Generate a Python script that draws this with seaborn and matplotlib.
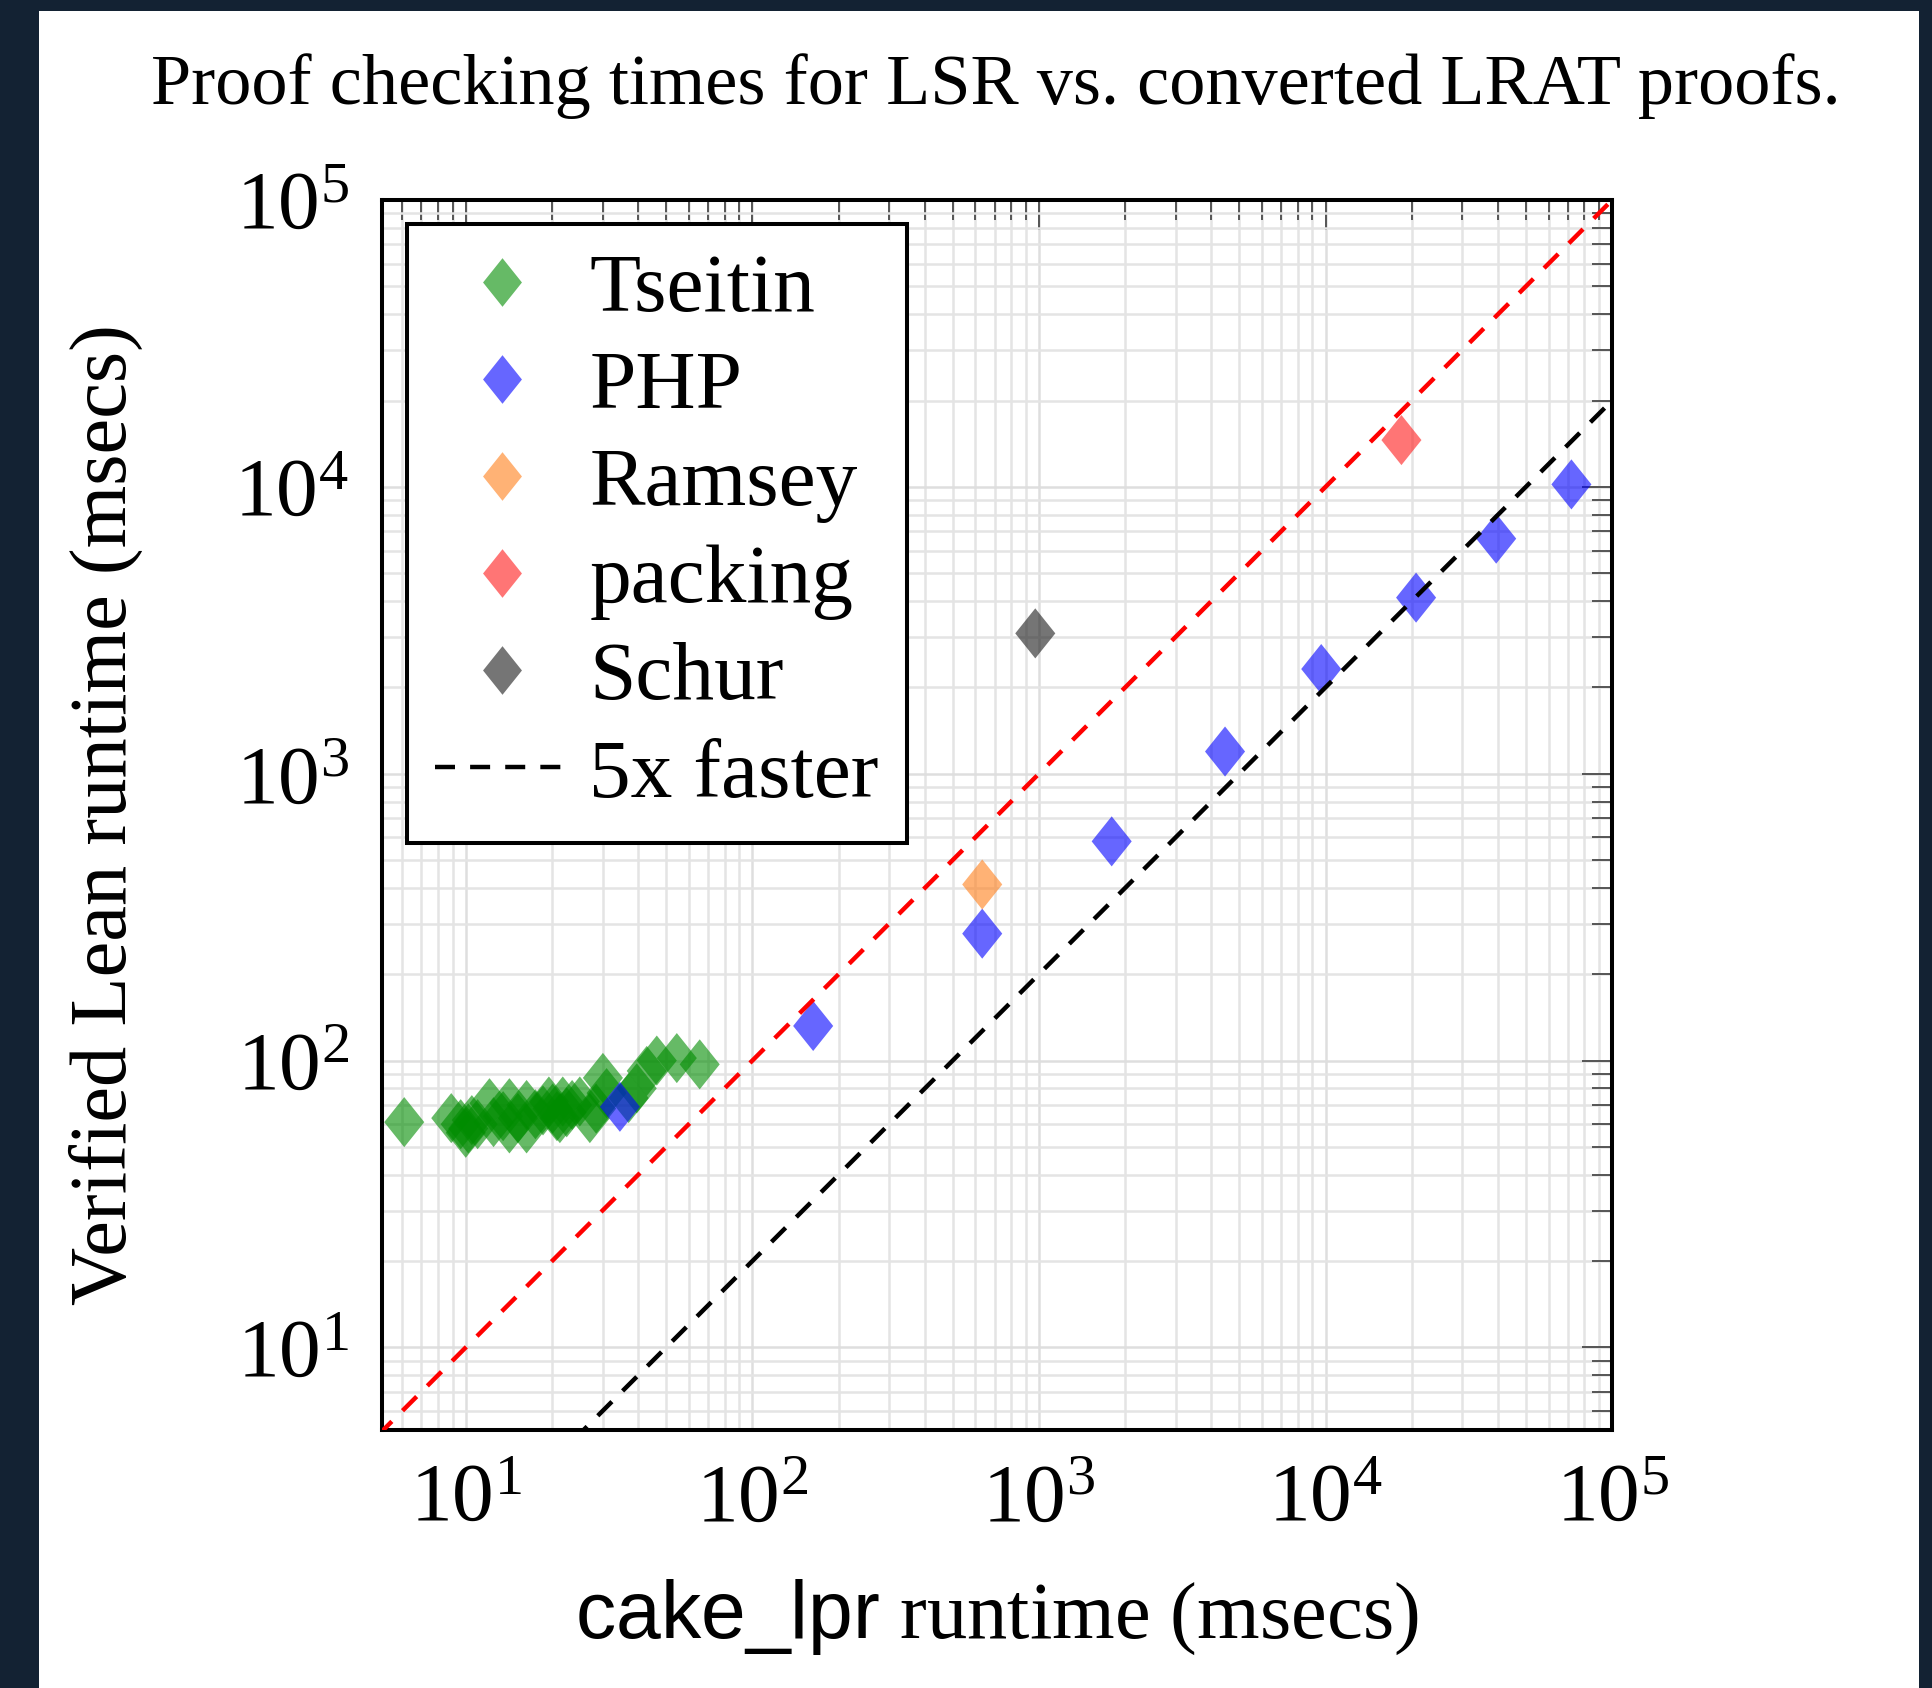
import numpy as np
import pandas as pd
import matplotlib
matplotlib.use("Agg")
import matplotlib.pyplot as plt
import seaborn as sns
from matplotlib.lines import Line2D
from matplotlib.patches import Rectangle
from matplotlib.ticker import LogLocator, NullFormatter

# values (msecs)
tseitin_x = [6.1, 8.9, 9.6, 10.0, 10.2, 10.5, 11.0, 12.1, 12.5, 13.5, 14.2, 14.2, 15.2, 16.3, 16.3,
             17.5, 18.6, 19.5, 20.1, 20.8, 21.3, 21.8, 22.5, 23.5, 25.0, 27.1, 28.5, 30.1, 31.0,
             37.0, 39.5, 42.8, 46.4, 54.5, 65.5]
tseitin_y = [61, 63, 60, 56, 58, 62, 60, 71, 61, 64, 71, 58, 63, 70, 58,
             65, 67, 72, 68, 64, 63, 72, 66, 70, 72, 63, 68, 87, 77,
             74, 80, 92, 100, 102, 97]
php_x = [34.5, 163, 634, 1794, 4460, 9660, 20700, 39400, 72100]
php_y = [69, 132, 277, 581, 1195, 2317, 4110, 6600, 10200]
ramsey_x = [634]
ramsey_y = [411]
packing_x = [18400]
packing_y = [14560]
schur_x = [971]
schur_y = [3085]

families = ["Tseitin", "PHP", "Ramsey", "packing", "Schur"]
colors = ["#008c00", "#0000ff", "#ff7f1a", "#ff1a1a", "#1a1a1a"]

df = pd.concat([
    pd.DataFrame({"x": tseitin_x, "y": tseitin_y, "family": "Tseitin"}),
    pd.DataFrame({"x": php_x, "y": php_y, "family": "PHP"}),
    pd.DataFrame({"x": ramsey_x, "y": ramsey_y, "family": "Ramsey"}),
    pd.DataFrame({"x": packing_x, "y": packing_y, "family": "packing"}),
    pd.DataFrame({"x": schur_x, "y": schur_y, "family": "Schur"}),
], ignore_index=True)

sns.set_theme(style="white")
plt.rcParams["font.family"] = ["Liberation Serif", "DejaVu Serif"]
plt.rcParams["mathtext.fontset"] = "custom"
plt.rcParams["mathtext.rm"] = "Liberation Serif"
plt.rcParams["mathtext.it"] = "Liberation Serif:italic"
plt.rcParams["mathtext.bf"] = "Liberation Serif:bold"
plt.rcParams["mathtext.sf"] = "Liberation Sans"
plt.rcParams["text.color"] = "black"
plt.rcParams["axes.labelcolor"] = "black"

fig = plt.figure(figsize=(19.33, 16.88), dpi=100)
fig.patch.set_facecolor("#132233")
fig.add_artist(Rectangle((39 / 1933, 0), (1919 - 39) / 1933, 1 - 11 / 1688,
                         transform=fig.transFigure, facecolor="white", edgecolor="none", zorder=0))

ax = fig.add_axes([0.1976, 0.1528, 0.6364, 0.7287])
ax.set_xscale("log")
ax.set_yscale("log")
ax.set_xlim(5.1, 1e5)
ax.set_ylim(5.15, 1e5)
for axis in (ax.xaxis, ax.yaxis):
    axis.set_major_locator(LogLocator(base=10, numticks=20))
    axis.set_minor_locator(LogLocator(base=10, subs=np.arange(2, 10), numticks=100))
    axis.set_minor_formatter(NullFormatter())

# diamond, a bit taller than wide
diamond = [(0, 1), (0.8, 0), (0, -1), (-0.8, 0), (0, 1)]
sns.scatterplot(data=df, x="x", y="y", hue="family", hue_order=families,
                palette=colors, marker=diamond, s=1300, alpha=0.6,
                linewidth=0, edgecolor="none", legend=False, ax=ax, zorder=3)

ref_x = np.array([1.0, 2e5])
ax.plot(ref_x, ref_x, color="red", lw=3.2, ls=(0, (4.5, 3.4)), zorder=4)
ax.plot(ref_x, ref_x / 5, color="black", lw=3.2, ls=(0, (4.5, 3.4)), zorder=4)

ax.grid(True, which="major", color="#dedede", lw=1.8)
ax.grid(True, which="minor", color="#e4e4e4", lw=1.8)
ax.set_axisbelow(True)
ax.tick_params(which="both", direction="in", top=True, right=True, color="#555555",
               labelcolor="black", labelsize=60)
ax.tick_params(which="major", length=21.6, width=1.4, pad=24)
ax.tick_params(which="minor", length=14.4, width=1.4)
for sp in ax.spines.values():
    sp.set_linewidth(2.9)
    sp.set_color("black")

ax.set_xlabel(r"$\mathsf{cake\_lpr}$ runtime (msecs)", fontsize=58, labelpad=28)
ax.set_ylabel("Verified Lean runtime (msecs)", fontsize=58, labelpad=66)

handles = [Line2D([], [], ls="none", marker=diamond, markersize=35, color=c, alpha=0.6,
                  markeredgewidth=0) for c in colors]
handles.append(Line2D([], [], color="black", lw=3.2, ls=(0, (4.5, 3.4))))
labels = families + ["5x faster"]
leg = ax.legend(handles, labels, loc="upper left", bbox_to_anchor=(0.0203, 0.9805),
                borderaxespad=0, fontsize=60, frameon=True, fancybox=False,
                edgecolor="black", framealpha=1, handlelength=1.6, handletextpad=0.25,
                labelspacing=0.25, borderpad=0.34)
leg.get_frame().set_linewidth(2.9)
leg.set_zorder(10)

fig.text(996 / 1933, 1 - 86 / 1688, "Proof checking times for LSR vs. converted LRAT proofs.",
         ha="center", va="center", fontsize=52)

fig.savefig("out.png", dpi=100, facecolor=fig.get_facecolor())
